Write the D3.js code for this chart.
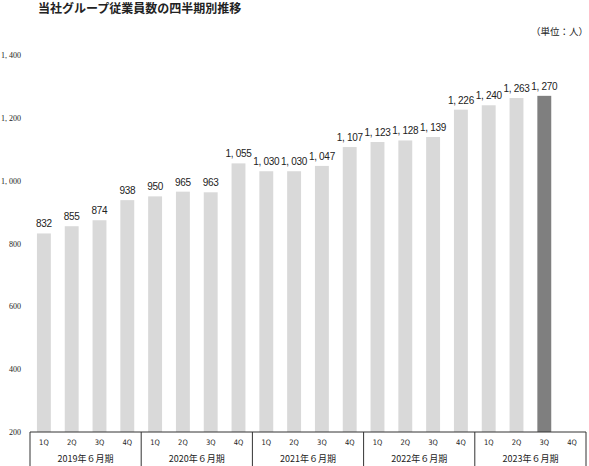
<!DOCTYPE html>
<html>
<head>
<meta charset="utf-8">
<script src="https://cdn.jsdelivr.net/npm/d3@7"></script>
<style>
body { margin: 0; background: #fff; }
</style>
</head>
<body>
<script>
var years = ["2019年６月期", "2020年６月期", "2021年６月期", "2022年６月期", "2023年６月期"],
quarters = ["1Q", "2Q", "3Q", "4Q"],
values = [832, 855, 874, 938,
          950, 965, 963, 1055,
          1030, 1030, 1047, 1107,
          1123, 1128, 1139, 1226,
          1240, 1263, 1270, null],
highlight = 18,
yTicks = [200, 400, 600, 800, 1000, 1200, 1400];

var width = 589, height = 466;
var margin = {left: 30, right: 3, top: 55, bottom: 34};
var baseY = height - margin.bottom;

var keys = [];
years.forEach(function(y, i) {
    quarters.forEach(function(q, j) { keys.push(i * 4 + j); });
});

var svg = d3.select("body").append("svg")
    .attr("width", width)
    .attr("height", height);

var xScale = d3.scaleBand()
    .domain(keys)
    .range([margin.left, width - margin.right])
    .paddingInner(0.5)
    .paddingOuter(0.25);

var yScale = d3.scaleLinear()
    .domain([200, 1400])
    .range([baseY, margin.top]);

var fmt = function(v) { return d3.format(",")(v).replace(",", ", "); };

// title
svg.append("text")
    .attr("x", 38).attr("y", 13)
    .style("font-family", "'Noto Sans CJK JP', sans-serif")
    .style("font-weight", "bold")
    .style("font-size", "12px")
    .attr("fill", "#222")
    .text("当社グループ従業員数の四半期別推移");

svg.append("text")
    .attr("x", 588).attr("y", 35)
    .attr("text-anchor", "end")
    .style("font-family", "'Noto Sans CJK JP', sans-serif")
    .style("font-size", "9.5px")
    .attr("fill", "#222")
    .text("（単位：人）");

// y tick labels
svg.append("g").selectAll("text")
    .data(yTicks)
    .enter().append("text")
    .attr("x", 21)
    .attr("y", function(d) { return yScale(d) + 3; })
    .attr("text-anchor", "end")
    .style("font-family", "'Liberation Serif', serif")
    .style("font-size", "8px")
    .attr("fill", "#222")
    .text(fmt);

// bars
var data = keys.map(function(k) { return {k: k, v: values[k]}; })
    .filter(function(d) { return d.v != null; });

svg.append("g").selectAll("rect")
    .data(data)
    .enter().append("rect")
    .attr("x", function(d) { return xScale(d.k); })
    .attr("width", xScale.bandwidth())
    .attr("y", function(d) { return yScale(d.v); })
    .attr("height", function(d) { return baseY - yScale(d.v); })
    .attr("fill", function(d) { return d.k == highlight ? "#7f7f7f" : "#d9d9d9"; });

svg.append("g").selectAll("text")
    .data(data)
    .enter().append("text")
    .attr("x", function(d) { return xScale(d.k) + xScale.bandwidth() / 2; })
    .attr("y", function(d) { return yScale(d.v) - 6; })
    .attr("text-anchor", "middle")
    .style("font-family", "'Liberation Sans', sans-serif")
    .style("font-size", "10px")
    .style("letter-spacing", "-0.3px")
    .attr("fill", "#222")
    .text(function(d) { return fmt(d.v); });

// x axis: baseline, separators, labels
var step = xScale.step();
var x0 = margin.left, x1 = width - margin.right;

svg.append("line")
    .attr("x1", x0).attr("x2", x1)
    .attr("y1", baseY).attr("y2", baseY)
    .attr("stroke", "#333").attr("stroke-width", 1);

var seps = d3.range(years.length + 1).map(function(i) { return x0 + i * 4 * step; });
svg.append("g").selectAll("line")
    .data(seps)
    .enter().append("line")
    .attr("x1", function(d) { return d; }).attr("x2", function(d) { return d; })
    .attr("y1", baseY).attr("y2", height)
    .attr("stroke", "#333").attr("stroke-width", 1);

svg.append("g").selectAll("text")
    .data(keys)
    .enter().append("text")
    .attr("x", function(d) { return xScale(d) + xScale.bandwidth() / 2; })
    .attr("y", baseY + 13)
    .attr("text-anchor", "middle")
    .style("font-family", "'DejaVu Sans Condensed', sans-serif")
    .style("font-size", "7.5px")
    .attr("fill", "#222")
    .text(function(d) { return quarters[d % 4]; });

svg.append("g").selectAll("text")
    .data(years)
    .enter().append("text")
    .attr("x", function(d, i) { return x0 + (i * 4 + 2) * step; })
    .attr("y", baseY + 30)
    .attr("text-anchor", "middle")
    .style("font-family", "'Noto Sans CJK JP', sans-serif")
    .style("font-size", "9px")
    .attr("fill", "#222")
    .text(function(d) { return d; });
</script>
</body>
</html>
